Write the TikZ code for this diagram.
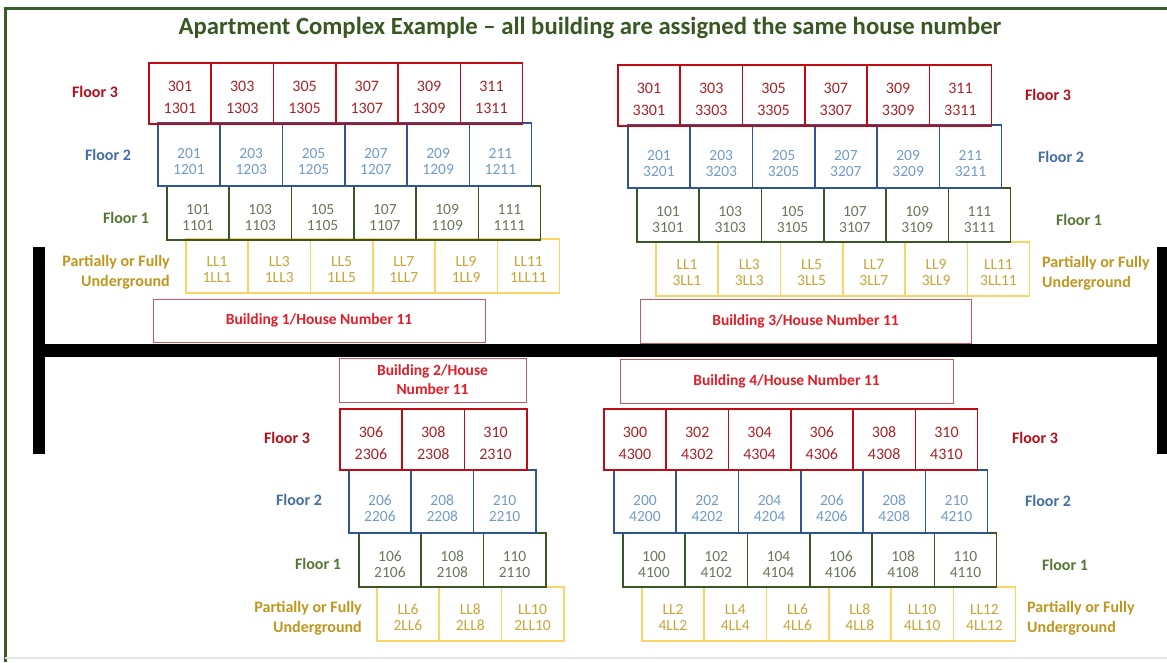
\documentclass[tikz,border=0pt]{standalone}
\usepackage{fontspec}
\setmainfont{Carlito}

\definecolor{frameg}{RGB}{58,92,42}
\definecolor{titleg}{RGB}{56,87,35}
\definecolor{fthreeline}{RGB}{192,10,20}
\definecolor{fthreetext}{RGB}{170,35,40}
\definecolor{fthreelabel}{RGB}{180,15,25}
\definecolor{ftwoline}{RGB}{47,85,151}
\definecolor{ftwotext}{RGB}{115,155,200}
\definecolor{ftwolabel}{RGB}{68,110,165}
\definecolor{foneline}{RGB}{56,87,35}
\definecolor{fonetext}{RGB}{105,120,90}
\definecolor{fonelabel}{RGB}{84,120,53}
\definecolor{llline}{RGB}{250,212,100}
\definecolor{lltext}{RGB}{200,165,55}
\definecolor{lllabel}{RGB}{191,150,30}
\definecolor{bldline}{RGB}{200,90,95}
\definecolor{bldtext}{RGB}{225,30,40}

% one row of units: name, style, left x, top y, text drop, list of top/bottom numbers
\newcommand\unitrow[6]{%
  \foreach \a/\b [count=\i from 0] in {#6} {%
    \node[#2, anchor=north west] (#1-\i) at ({#3+\i*62.3}, #4)
      {\raisebox{#5}[\height][\depth]{\begin{tabular}{@{}c@{}}\a\\\b\end{tabular}}};
  }}

\begin{document}
\begin{tikzpicture}[x=1pt, y=-1pt,
  unitbox/.style={draw, rectangle, inner sep=0pt, minimum width=62.3pt, line width=1.6pt},
  fthree/.style={unitbox, draw=fthreeline, text=fthreetext, minimum height=61pt,
    font=\fontsize{16}{22}\selectfont},
  ftwo/.style={unitbox, draw=ftwoline, text=ftwotext, minimum height=63pt,
    font=\fontsize{15.5}{16.5}\selectfont},
  fone/.style={unitbox, draw=foneline, text=fonetext, minimum height=54pt,
    font=\fontsize{15.5}{16}\selectfont},
  lower/.style={unitbox, draw=llline, text=lltext, minimum height=54pt,
    font=\fontsize{15.5}{16}\selectfont},
  bld/.style={draw=bldline, line width=1pt, text=bldtext, inner sep=0pt, align=center,
    font=\fontsize{15.5}{19}\selectfont\bfseries},
  lbl/.style={font=\fontsize{16}{19.5}\selectfont\bfseries, inner sep=0pt},
  lthree/.style={lbl, text=fthreelabel},
  ltwo/.style={lbl, text=ftwolabel},
  lone/.style={lbl, text=fonelabel},
  lll/.style={lbl, text=lllabel},
  road/.style={fill=black}]

\useasboundingbox (0,0) rectangle (1167,662);
\fill[white] (0,0) rectangle (1167,662);

% frame
\draw[frameg, line width=3pt] (5,662) -- (5,8) -- (1167,8);
\draw[frameg!15, line width=1.5pt] (5,658) -- (1167,658);

% title
\node[text=titleg, font=\fontsize{24.7}{28}\selectfont\bfseries, inner sep=0pt] (title) at (590,28)
  {Apartment Complex Example -- all building are assigned the same house number};

% street
\fill[road] (33,247) rectangle (45,454);
\fill[road] (45,344) rectangle (1157,357);
\fill[road] (1157,247) rectangle (1167,454);

% building 1
\unitrow{bOnell}{lower}{185}{238}{-5pt}{LL1/1LL1,LL3/1LL3,LL5/1LL5,LL7/1LL7,LL9/1LL9,LL11/1LL11}
\unitrow{bOneff}{fone}{166}{185}{-6pt}{101/1101,103/1103,105/1105,107/1107,109/1109,111/1111}
\unitrow{bOnefs}{ftwo}{157}{122}{-9pt}{201/1201,203/1203,205/1205,207/1207,209/1209,211/1211}
\unitrow{bOneft}{fthree}{148}{62}{-5pt}{301/1301,303/1303,305/1305,307/1307,309/1309,311/1311}
\node[bld, minimum width=332pt, minimum height=43pt] (bOne) at (319,320.5) {Building 1/House Number 11};
\node[lthree] (bOnel3) at (95,92) {Floor 3};
\node[ltwo] (bOnel2) at (108,155) {Floor 2};
\node[lone] (bOnel1) at (126,218) {Floor 1};
\node[lll, anchor=east, align=right] (bOnell) at (170,272) {Partially or Fully\\Underground};

% building 3
\unitrow{bThreell}{lower}{655}{241}{-5pt}{LL1/3LL1,LL3/3LL3,LL5/3LL5,LL7/3LL7,LL9/3LL9,LL11/3LL11}
\unitrow{bThreeff}{fone}{636}{187}{-6pt}{101/3101,103/3103,105/3105,107/3107,109/3109,111/3111}
\unitrow{bThreefs}{ftwo}{627}{124}{-9pt}{201/3201,203/3203,205/3205,207/3207,209/3209,211/3211}
\unitrow{bThreeft}{fthree}{617}{64}{-5pt}{301/3301,303/3303,305/3305,307/3307,309/3309,311/3311}
\node[bld, minimum width=331pt, minimum height=44pt] (bThree) at (805.5,321) {Building 3/House Number 11};
\node[lthree] (bThreel3) at (1048,95) {Floor 3};
\node[ltwo] (bThreel2) at (1061,157) {Floor 2};
\node[lone] (bThreel1) at (1079,220) {Floor 1};
\node[lll, anchor=west, align=left] (bThreell) at (1042,273) {Partially or Fully\\Underground};

% building 2
\node[bld, minimum width=187pt, minimum height=44pt] (bTwo) at (432.5,380) {Building 2/House\\Number 11};
\unitrow{bTwoll}{lower}{376}{586}{-5pt}{LL6/2LL6,LL8/2LL8,LL10/2LL10}
\unitrow{bTwoff}{fone}{358}{532}{-6pt}{106/2106,108/2108,110/2110}
\unitrow{bTwofs}{ftwo}{348}{469}{-9pt}{206/2206,208/2208,210/2210}
\unitrow{bTwoft}{fthree}{339}{408}{-5pt}{306/2306,308/2308,310/2310}
\node[lthree] (bTwol3) at (287,438) {Floor 3};
\node[ltwo] (bTwol2) at (299,500) {Floor 2};
\node[lone] (bTwol1) at (318,564) {Floor 1};
\node[lll, anchor=east, align=right] (bTwoll) at (362,618) {Partially or Fully\\Underground};

% building 4
\node[bld, minimum width=333pt, minimum height=44pt] (bFour) at (786.5,381) {Building 4/House Number 11};
\unitrow{bFourll}{lower}{641}{586}{-5pt}{LL2/4LL2,LL4/4LL4,LL6/4LL6,LL8/4LL8,LL10/4LL10,LL12/4LL12}
\unitrow{bFourff}{fone}{622}{532}{-6pt}{100/4100,102/4102,104/4104,106/4106,108/4108,110/4110}
\unitrow{bFourfs}{ftwo}{613}{469}{-9pt}{200/4200,202/4202,204/4204,206/4206,208/4208,210/4210}
\unitrow{bFourft}{fthree}{603}{408}{-5pt}{300/4300,302/4302,304/4304,306/4306,308/4308,310/4310}
\node[lthree] (bFourl3) at (1035,438) {Floor 3};
\node[ltwo] (bFourl2) at (1048,501) {Floor 2};
\node[lone] (bFourl1) at (1065,565) {Floor 1};
\node[lll, anchor=west, align=left] (bFourll) at (1027,618) {Partially or Fully\\Underground};
\end{tikzpicture}
\end{document}
